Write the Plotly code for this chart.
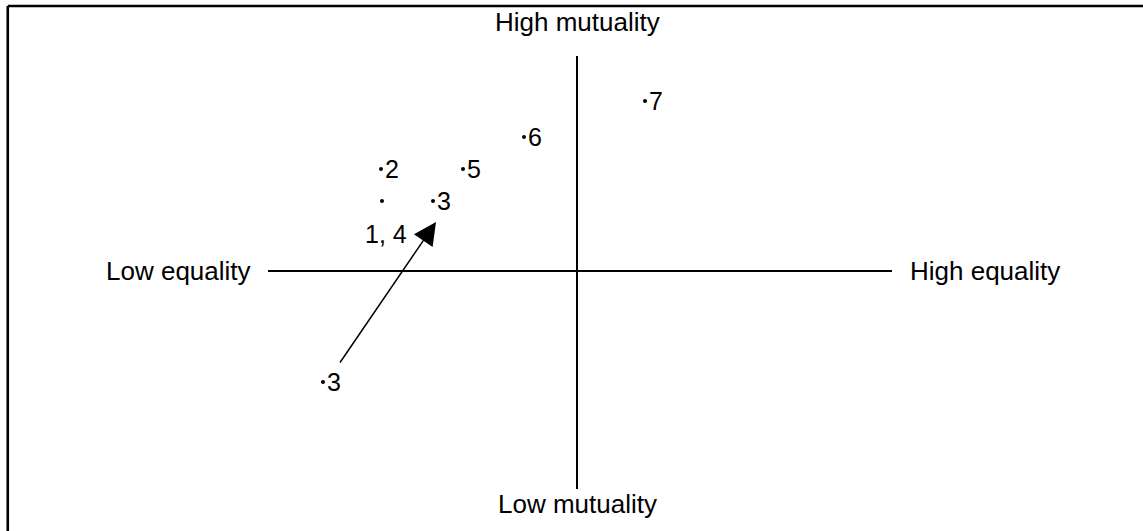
import plotly.graph_objects as go

# positions on the equality (x) / mutuality (y) plane
labels = ["7", "6", "2", "5", "", "3", "3"]
equality = [0.68, -0.53, -1.96, -1.14, -1.95, -1.44, -2.54]
mutuality = [1.70, 1.34, 1.02, 1.02, 0.70, 0.70, -1.11]

# the "1, 4" label sits under the lone dot
pair_label = "1, 4"
pair_pos = (-1.91, 0.37)

# arrow from old position of 3 to new one
arrow_from = (-2.38, -0.93)
arrow_to = (-1.41, 0.49)

# axis ends and captions
x_axis_ends = (-3.09, 3.15)
y_axis_ends = (-2.18, 2.15)
captions = {
    "High mutuality": (0, 2.49, "center"),
    "Low mutuality": (0, -2.33, "center"),
    "Low equality": (-3.24, 0.0, "right"),
    "High equality": (3.31, 0.0, "left"),
}

FONT = "Liberation Sans, Arial, Helvetica, sans-serif"

fig = go.Figure()

fig.add_trace(go.Scatter(
    x=equality, y=mutuality, mode="markers",
    marker=dict(color="black", size=4),
    hoverinfo="skip", showlegend=False,
))

for lab, x, y in zip(labels, equality, mutuality):
    if lab:
        fig.add_annotation(x=x, y=y, text=lab, showarrow=False,
                           xanchor="left", yanchor="middle", xshift=2,
                           font=dict(size=25, color="black", family=FONT))

fig.add_annotation(x=pair_pos[0], y=pair_pos[1], text=pair_label, showarrow=False,
                   xanchor="center", yanchor="middle",
                   font=dict(size=25, color="black", family=FONT))

fig.add_annotation(x=arrow_to[0], y=arrow_to[1], ax=arrow_from[0], ay=arrow_from[1],
                   axref="x", ayref="y", xref="x", yref="y", text="",
                   showarrow=True, arrowhead=2, arrowsize=3, arrowwidth=1.5,
                   arrowcolor="black", standoff=0)

for txt, (x, y, anchor) in captions.items():
    fig.add_annotation(x=x, y=y, text=txt, showarrow=False,
                       xanchor=anchor, yanchor="middle",
                       font=dict(size=26, color="black", family=FONT))

# quadrant axes
fig.add_shape(type="line", x0=x_axis_ends[0], x1=x_axis_ends[1], y0=0, y1=0,
              line=dict(color="black", width=2))
fig.add_shape(type="line", x0=0, x1=0, y0=y_axis_ends[0], y1=y_axis_ends[1],
              line=dict(color="black", width=2))

# frame (only top and left edges show in the picture)
fig.add_shape(type="line", xref="paper", yref="paper", x0=0.0068, x1=1.01, y0=0.9887, y1=0.9887,
              line=dict(color="black", width=2.6))
fig.add_shape(type="line", xref="paper", yref="paper", x0=0.0068, x1=0.0068, y0=0.9887, y1=-0.01,
              line=dict(color="black", width=2.6))

fig.update_xaxes(range=[-5.77, 5.66], visible=False)
fig.update_yaxes(range=[-2.60, 2.71], visible=False)
fig.update_layout(
    width=1143, height=531,
    margin=dict(l=0, r=0, t=0, b=0),
    plot_bgcolor="white", paper_bgcolor="white",
)

# drop the page's default 8px body margin so the figure sits at the corner
fig.write_html("out.html", config={"displayModeBar": False},
               post_script="document.body.style.margin='0';document.body.style.overflow='hidden';")
